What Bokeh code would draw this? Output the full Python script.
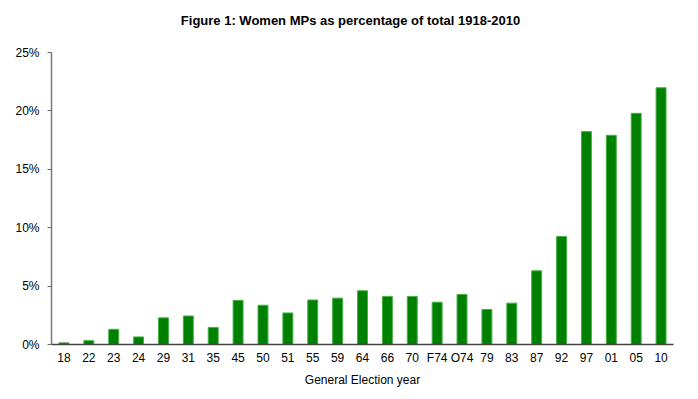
from bokeh.plotting import figure
from bokeh.models import ColumnDataSource, FixedTicker, NumeralTickFormatter, Range1d, Label
from bokeh.embed import file_html
from bokeh.resources import INLINE

years = ["18", "22", "23", "24", "29", "31", "35", "45", "50", "51", "55", "59", "64",
         "66", "70", "F74", "O74", "79", "83", "87", "92", "97", "01", "05", "10"]
pct = [0.14, 0.33, 1.30, 0.65, 2.28, 2.44, 1.46, 3.78, 3.36, 2.70, 3.81, 3.97, 4.60,
       4.12, 4.12, 3.62, 4.28, 3.00, 3.54, 6.31, 9.24, 18.23, 17.91, 19.79, 21.98]
y_ticks = [0, 5, 10, 15, 20, 25]
title_text = "Figure 1: Women MPs as percentage of total 1918-2010"

FONT = "Liberation Sans"

# layout (pixels)
W, H = 698, 399
BORDER_TOP, BORDER_BOTTOM = 8, 55
AXIS_TOP_PX = 52          # where 25% sits
frame_h = H - BORDER_TOP - BORDER_BOTTOM
y_top = 0.25 * frame_h / (H - BORDER_BOTTOM - AXIS_TOP_PX)

src = ColumnDataSource(data=dict(years=years, pct=[v / 100 for v in pct]))

p = figure(x_range=years, y_range=Range1d(0, y_top), width=W, height=H,
           output_backend="svg", toolbar_location=None,
           min_border_left=51, min_border_right=25,
           min_border_top=BORDER_TOP, min_border_bottom=BORDER_BOTTOM)

p.vbar(x="years", top="pct", width=0.4, source=src,
       fill_color="#008000", line_color="#45b045", line_width=1)

title = Label(x=299, y=H - BORDER_BOTTOM - 20, x_units="screen", y_units="screen",
              text=title_text, text_align="center", text_baseline="middle",
              text_font=FONT, text_font_size="13px", text_font_style="bold",
              text_color="black")
p.add_layout(title)

p.outline_line_color = None
p.xgrid.grid_line_color = None
p.ygrid.grid_line_color = None
p.background_fill_color = "white"
p.border_fill_color = "white"

p.x_range.range_padding = 0
p.yaxis.bounds = (0, 0.25)
p.yaxis.ticker = FixedTicker(ticks=[v / 100 for v in y_ticks])
p.yaxis.formatter = NumeralTickFormatter(format="0%")
p.yaxis.minor_tick_line_color = None
p.yaxis.major_tick_in = 0
p.yaxis.major_tick_out = 4
p.yaxis.major_tick_line_color = "#666666"
p.yaxis.axis_line_color = "#777777"
p.yaxis.axis_line_width = 1.5
p.yaxis.major_label_standoff = 8

p.xaxis.major_tick_line_color = None
p.xaxis.minor_tick_line_color = None
p.xaxis.axis_line_color = "#444444"
p.xaxis.axis_line_width = 1.5
p.xaxis.major_label_standoff = 0
p.xaxis.axis_label = "General Election year"
p.xaxis.axis_label_standoff = 5
p.xaxis.axis_label_text_font_style = "normal"

for ax in (p.xaxis[0], p.yaxis[0]):
    ax.major_label_text_font = FONT
    ax.major_label_text_font_size = "12px"
    ax.major_label_text_color = "black"
    ax.axis_label_text_font = FONT
    ax.axis_label_text_font_size = "12px"
    ax.axis_label_text_color = "black"

open("out.html", "w").write(file_html(p, INLINE))
